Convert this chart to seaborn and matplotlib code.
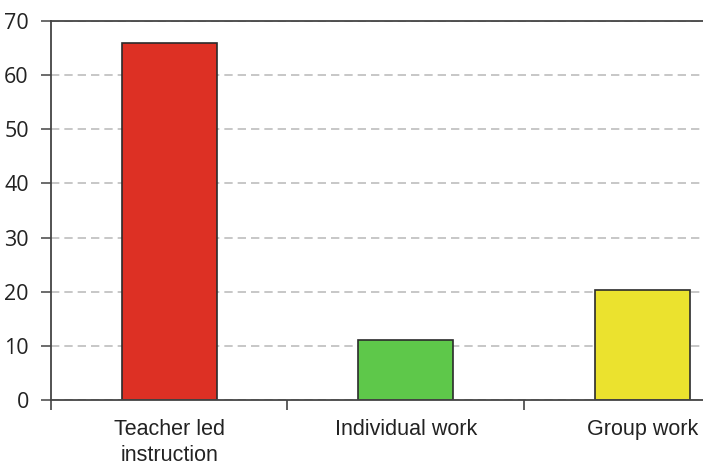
import matplotlib
matplotlib.use("Agg")
import matplotlib.pyplot as plt
import seaborn as sns
import pandas as pd

categories = ["Teacher led\ninstruction", "Individual work", "Group work"]
values = [66.0, 11.1, 20.3]
colors = ["#DD3024", "#5EC84A", "#EBE22E"]
y_ticks = [0, 10, 20, 30, 40, 50, 60, 70]

df = pd.DataFrame({"category": categories, "value": values})

sns.set_style("white")
plt.rcParams["font.family"] = ["Liberation Sans", "DejaVu Sans"]

fig = plt.figure(figsize=(7.03, 4.66), dpi=100)
ax = fig.add_axes([51 / 703, 66 / 466, 1 - 51 / 703, 379 / 466])

sns.barplot(data=df, x="category", y="value", hue="category", palette=colors,
            saturation=1, width=0.4, edgecolor="#2b2b2b", linewidth=1.2,
            legend=False, ax=ax)

ax.set_xlim(-0.5, 2.257)
ax.set_ylim(0, 70)
ax.set_yticks(y_ticks)
ax.set_yticklabels([str(t) for t in y_ticks], fontsize=15.5,
                   family=["Open Sans", "DejaVu Sans"])
ax.yaxis.grid(True, linestyle=(0, (5, 3)), color="#BDBDBD", linewidth=1.2)
ax.set_axisbelow(True)

ax.set_xticks([0, 1, 2])
ax.set_xticklabels(categories, fontsize=15.5, color="#222222", linespacing=1.3)
ax.set_xticks([-0.5, 0.5, 1.5], minor=True)
ax.tick_params(axis="x", which="major", bottom=False, length=0, pad=14)
ax.tick_params(axis="x", which="minor", bottom=True, length=7, width=1.2,
               color="#444444", direction="out")
ax.tick_params(axis="y", left=True, length=7, width=1.1, color="#444444",
               direction="out", pad=9, labelcolor="#222222")

for side in ["left", "bottom", "top"]:
    ax.spines[side].set_color("#444444")
    ax.spines[side].set_linewidth(1.3)
ax.spines["right"].set_visible(False)

ax.set_xlabel("")
ax.set_ylabel("")

fig.savefig("out.png", dpi=100)
